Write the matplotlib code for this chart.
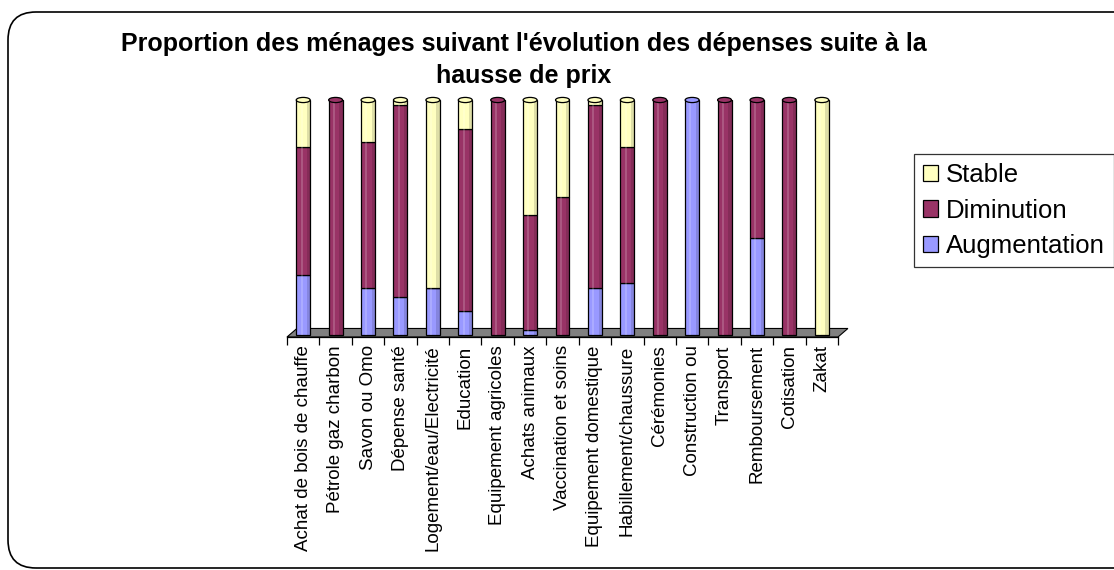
import matplotlib
matplotlib.use('Agg')
import matplotlib.pyplot as plt
from matplotlib.patches import Patch, Ellipse, Polygon, FancyBboxPatch
from matplotlib.transforms import IdentityTransform
import numpy as np

plt.rcParams['font.family'] = ['Liberation Sans', 'DejaVu Sans']

categories = ['Achat de bois de chauffe', 'Pétrole gaz charbon', 'Savon ou Omo',
              'Dépense santé', 'Logement/eau/Electricité', 'Education',
              'Equipement agricoles', 'Achats animaux', 'Vaccination et soins',
              'Equipement domestique', 'Habillement/chaussure', 'Cérémonies',
              'Construction ou', 'Transport', 'Remboursement', 'Cotisation', 'Zakat']
augmentation = [25.5, 0, 20, 16, 20, 10, 0, 2, 0, 20, 22, 0, 100, 0, 41, 0, 0]
diminution = [54.5, 100, 62, 82, 0, 77.5, 100, 49, 58.6, 78, 58, 100, 0, 100, 59, 100, 0]
stable = [20, 0, 18, 2, 80, 12.5, 0, 49, 41.4, 2, 20, 0, 0, 0, 0, 0, 100]

c_aug = '#9999FF'
c_dim = '#993366'
c_sta = '#FFFFC0'

W, H = 1114, 570
fig = plt.figure(figsize=(W / 100, H / 100), dpi=100)

# rounded chart border
border = FancyBboxPatch((8, 2), 1140, 556, boxstyle='round,pad=0,rounding_size=28',
                        transform=IdentityTransform(), facecolor='none',
                        edgecolor='black', linewidth=1.2, zorder=-1)
fig.patches.append(border)

ax = fig.add_axes([287 / W, (H - 337) / H, 551 / W, 237 / H])
ax.set_facecolor('none')

x = np.arange(len(categories))
aug = np.array(augmentation)
dim = np.array(diminution)
sta = np.array(stable)
bw = 0.43

# floor
floor = Polygon([(0, 0), (0.018, 0.036), (1.018, 0.036), (1.0, 0)], closed=True,
                transform=ax.transAxes, facecolor='#808080', edgecolor='black',
                linewidth=0.8, clip_on=False, zorder=1)
ax.add_patch(floor)

segs = [(aug, np.zeros_like(aug), c_aug),
        (dim, aug, c_dim),
        (sta, aug + dim, c_sta)]
for h, b, c in segs:
    ax.bar(x, h, bw, bottom=b, color=c, edgecolor='black', linewidth=0.9, zorder=3)
    # cylinder shading
    ax.bar(x + bw / 2 - bw * 0.12, h, bw * 0.24, bottom=b, color='black',
           alpha=0.13, linewidth=0, zorder=3.2)
    ax.bar(x - bw * 0.12, h, bw * 0.14, bottom=b, color='white',
           alpha=0.18, linewidth=0, zorder=3.2)

# cylinder tops
tops = aug + dim + sta
for xi, t, a, d, s in zip(x, tops, aug, dim, sta):
    col = c_sta if s > 0 else (c_dim if d > 0 else c_aug)
    ax.add_patch(Ellipse((xi, t), bw, 2.2, facecolor=col, edgecolor='black',
                         linewidth=0.9, zorder=4, clip_on=False))

ax.set_xlim(-0.5, len(categories) - 0.5)
ax.set_ylim(-1, 100)
ax.set_yticks([])
for sp in ['top', 'right', 'left']:
    ax.spines[sp].set_visible(False)
ax.spines['bottom'].set_linewidth(0.9)
ax.set_xticks(x)
ax.set_xticklabels(categories, rotation=90, fontsize=13.5, va='top')
ax.set_xticks(np.arange(-0.5, len(categories)), minor=True)
ax.tick_params(axis='x', which='major', length=0, pad=6)
ax.tick_params(axis='x', which='minor', length=6, width=0.9, direction='out')

fig.text(524 / W, 1 - 60 / H, "Proportion des ménages suivant l'évolution des dépenses suite à la\nhausse de prix",
         ha='center', va='center', fontsize=18, fontweight='bold', linespacing=1.38)

handles = [Patch(facecolor=c_sta, edgecolor='black', linewidth=0.9),
           Patch(facecolor=c_dim, edgecolor='black', linewidth=0.9),
           Patch(facecolor=c_aug, edgecolor='black', linewidth=0.9)]
leg = fig.legend(handles, ['Stable', 'Diminution', 'Augmentation'],
                 loc='upper left', bbox_to_anchor=(914 / W, 1 - 154 / H),
                 fontsize=18.5, frameon=True, fancybox=False, handlelength=0.6,
                 handleheight=0.6, handletextpad=0.3, labelspacing=0.45,
                 borderpad=0.35, borderaxespad=0)
leg.get_frame().set_edgecolor('black')
leg.get_frame().set_linewidth(0.9)

fig.savefig('out.png', dpi=100)
